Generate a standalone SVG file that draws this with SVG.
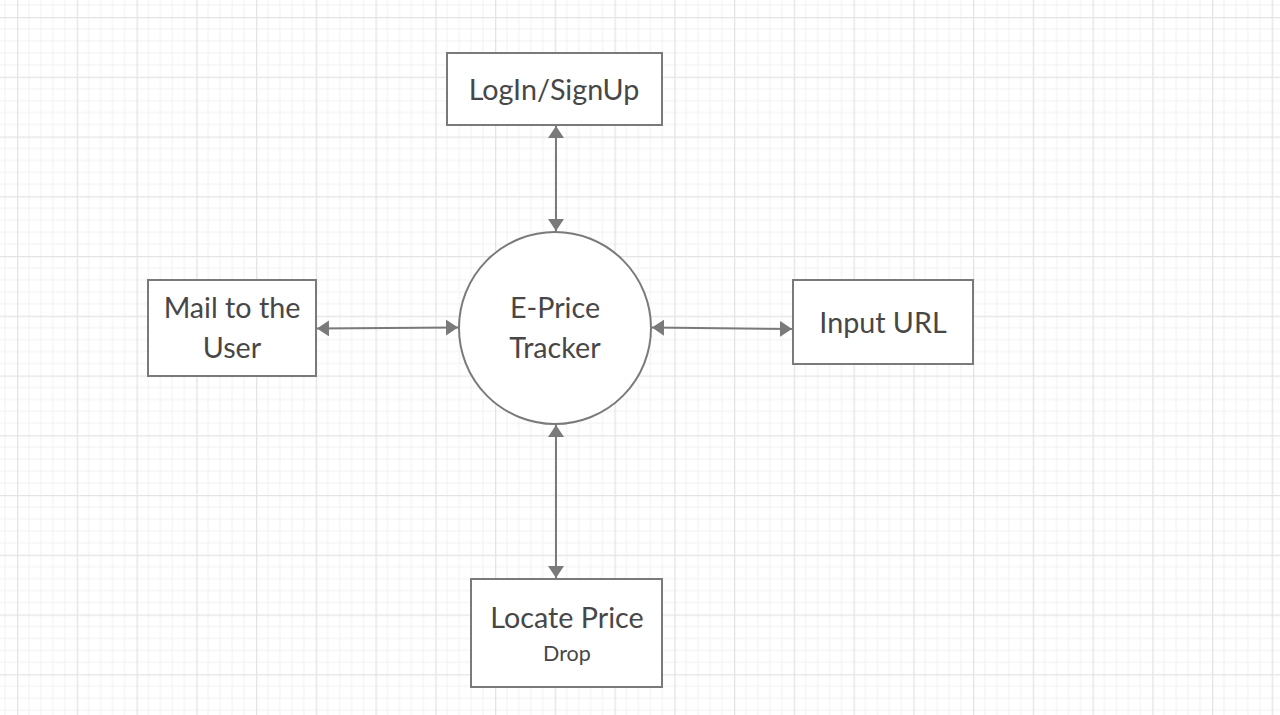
<svg xmlns="http://www.w3.org/2000/svg" width="1280" height="715" viewBox="0 0 1280 715">
  <style>
    .box { fill: #ffffff; stroke: #7a7a7a; stroke-width: 2; }
    .lbl { font-family: Lato, "Open Sans", "Liberation Sans", sans-serif; fill: #474747; text-anchor: middle; font-size: 28.7px; }
    .small { font-size: 21.5px; }
    .conn { stroke: #7a7a7a; stroke-width: 2; fill: none; marker-start: url(#arr); marker-end: url(#arr); }
  </style>
  <defs>
    <pattern id="grid" patternUnits="userSpaceOnUse" x="17" y="17" width="59.75" height="59.75">
      <path d="M11.95 0V59.75M23.9 0V59.75M35.85 0V59.75M47.8 0V59.75M0 11.95H59.75M0 23.9H59.75M0 35.85H59.75M0 47.8H59.75" stroke="#f1f1f1" stroke-width="1"/>
      <path d="M0.5 0V59.75M0 0.5H59.75" stroke="#e4e4e4" stroke-width="1.6"/>
    </pattern>
    <marker id="arr" viewBox="0 0 12 16" refX="12" refY="8" markerWidth="12" markerHeight="16" markerUnits="userSpaceOnUse" orient="auto-start-reverse">
      <path d="M0 0L12 8L0 16Z" fill="#7a7a7a"/>
    </marker>
  </defs>
  <rect x="0" y="0" width="1280" height="715" fill="#ffffff"/>
  <rect x="0" y="0" width="1280" height="715" fill="url(#grid)"/>

  <g id="connectors">
    <path class="conn" d="M556 126V231"/>
    <path class="conn" d="M317 328.5L458 327.5"/>
    <path class="conn" d="M652 327.5L792 329"/>
    <path class="conn" d="M556 425V578"/>
  </g>

  <g id="login">
    <rect class="box" x="447" y="53" width="215" height="72"/>
    <text class="lbl" x="554" y="100">LogIn/SignUp</text>
  </g>
  <g id="tracker">
    <circle class="box" cx="555" cy="328" r="96"/>
    <text class="lbl" x="555" y="318">E-Price</text>
    <text class="lbl" x="555" y="358">Tracker</text>
  </g>
  <g id="mail">
    <rect class="box" x="148" y="280" width="168" height="96"/>
    <text class="lbl" x="232" y="318">Mail to the</text>
    <text class="lbl" x="232" y="358">User</text>
  </g>
  <g id="input">
    <rect class="box" x="793" y="280" width="180" height="84"/>
    <text class="lbl" x="883" y="333">Input URL</text>
  </g>
  <g id="locate">
    <rect class="box" x="471" y="579" width="191" height="108"/>
    <text class="lbl" x="567" y="628">Locate Price</text>
    <text class="lbl small" x="567" y="661">Drop</text>
  </g>
</svg>
